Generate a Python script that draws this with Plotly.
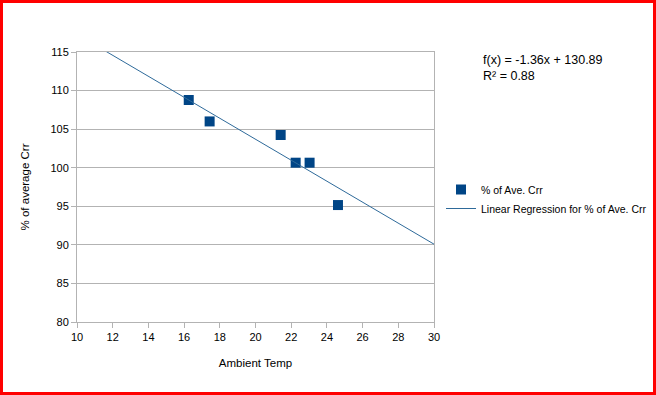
import numpy as np
import plotly.graph_objects as go

# Data
ambient_temp = [16.26, 17.43, 21.41, 22.25, 23.03, 24.62]
pct_avg_crr = [108.78, 106.0, 104.24, 100.65, 100.65, 95.16]
slope = -1.36
intercept = 130.89
r_squared = 0.88
x_ticks = list(range(10, 31, 2))
y_ticks = list(range(80, 116, 5))

W, H = 656, 395
ML, MR, MT, MB = 77, 222, 52, 73
PW, PH = W - ML - MR, H - MT - MB

blue = "#004586"
grid = "#b3b3b3"
font_family = "Liberation Sans, Arial, sans-serif"

line_x = np.array([x_ticks[0], x_ticks[-1]], dtype=float)
line_y = slope * line_x + intercept

fig = go.Figure()
fig.add_trace(go.Scatter(
    x=ambient_temp, y=pct_avg_crr, mode="markers", name="% of Ave. Crr",
    marker=dict(symbol="square", size=10, color=blue),
))
fig.add_trace(go.Scatter(
    x=line_x, y=line_y, mode="lines", name="Linear Regression for % of Ave. Crr",
    line=dict(color="#2e6a9a", width=1),
))

def px_x(p):
    return (p - ML) / PW

def px_y(p):
    return (H - MB - p) / PH

shapes = [dict(type="rect", xref="paper", yref="paper",
               x0=px_x(1.5), x1=px_x(W - 1.5), y0=px_y(H - 1.5), y1=px_y(1.5),
               line=dict(color="#ff0000", width=3), fillcolor="rgba(0,0,0,0)", layer="above")]

fig.update_layout(
    width=W, height=H,
    margin=dict(l=ML, r=MR, t=MT, b=MB, autoexpand=False),
    paper_bgcolor="white", plot_bgcolor="white",
    font=dict(family=font_family, size=11, color="black"),
    showlegend=True,
    legend=dict(xref="container", yref="container", x=441 / W, y=1 - 175 / H,
                xanchor="left", yanchor="top", font=dict(size=10.5, color="black"),
                itemwidth=30, tracegroupgap=0, bgcolor="rgba(0,0,0,0)"),
    xaxis=dict(range=[x_ticks[0], x_ticks[-1]], tickvals=x_ticks, showgrid=False,
               showline=True, linecolor=grid, linewidth=1, mirror=True,
               ticks="outside", ticklen=5, tickcolor=grid, zeroline=False,
               tickfont=dict(size=11), title=dict(text="Ambient Temp", font=dict(size=11.5), standoff=16)),
    yaxis=dict(range=[y_ticks[0], y_ticks[-1]], tickvals=y_ticks, showgrid=True, gridcolor=grid,
               showline=True, linecolor=grid, linewidth=1, mirror=True,
               ticks="outside", ticklen=5, tickcolor=grid, zeroline=False,
               tickfont=dict(size=11), title=dict(text="% of average Crr", font=dict(size=11.5), standoff=18)),
    shapes=shapes,
    annotations=[dict(xref="paper", yref="paper", x=px_x(481), y=px_y(51),
                      xanchor="left", yanchor="top", align="left", showarrow=False,
                      text=f"f(x) = {slope}x + {intercept}<br>R² = {r_squared}",
                      font=dict(size=12.5, color="black"))],
)

fig.write_html("out.html", config={"displayModeBar": False},
               post_script="document.body.style.margin='0';document.body.style.overflow='hidden';")
